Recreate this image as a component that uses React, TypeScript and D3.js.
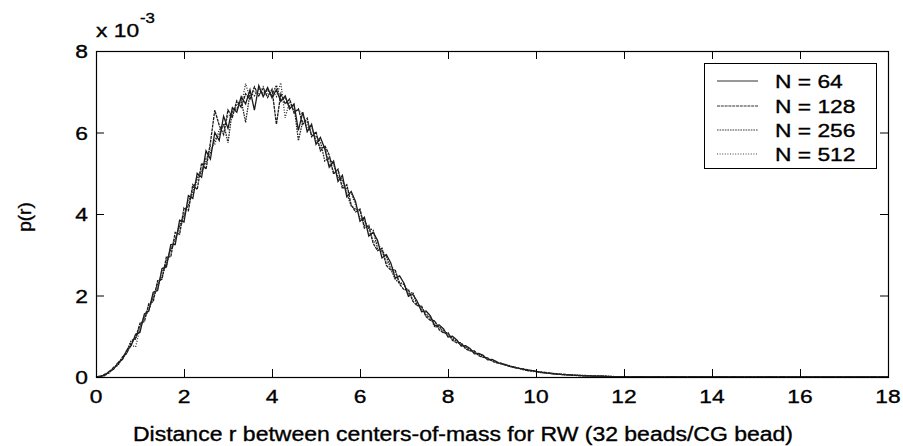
import React from "react";
import * as d3 from "d3";

// r grid (0 .. 18, step 0.1)
const R: number[] = d3.range(0, 181).map((i) => +(i * 0.1).toFixed(1));

const TAIL_A = [0.01,0,0.01,0.01,0,0,0.01,0,0,0, 0.01,0,0,0,0,0.01,0,0,0,0, 0,0.01,0,0,0,0,0,0,0,0, 0,0,0.01,0,0,0,0,0,0,0, 0,0,0,0,0,0,0,0,0,0, 0,0,0,0,0,0,0,0,0,0];
const TAIL_B = [0,0.01,0.01,0,0.01,0,0,0.01,0,0, 0,0,0.01,0,0,0,0,0.01,0,0, 0,0,0,0,0.01,0,0,0,0,0, 0,0,0,0,0,0.01,0,0,0,0, 0,0,0,0,0,0,0,0,0,0, 0,0,0,0,0,0,0,0,0,0];

const N64 = [
  0, 0.02, 0.04, 0.14, 0.19, 0.35, 0.43, 0.66, 0.77, 1.05,
  1.10, 1.55, 1.62, 2.08, 2.12, 2.66, 2.70, 3.25, 3.25, 3.85,
  3.80, 4.45, 4.38, 5.00, 4.90, 5.55, 5.35, 6.00, 5.80, 6.40,
  6.10, 6.61, 6.50, 6.88, 6.70, 7.05, 6.55, 7.15, 6.88, 7.10,
  6.85, 7.05, 6.76, 6.90, 6.58, 6.70, 6.05, 6.50, 6.02, 6.20,
  5.71, 5.88, 5.60, 5.15, 5.30, 4.80, 4.95, 4.42, 4.55, 4.30,
  3.82, 3.92, 3.46, 3.55, 3.35, 2.92, 3.00, 2.80, 2.42, 2.48,
  2.30, 1.98, 2.03, 1.86, 1.60, 1.62, 1.50, 1.26, 1.28, 1.18,
  0.98, 1.00, 0.91, 0.76, 0.77, 0.70, 0.57, 0.58, 0.53, 0.42,
  0.43, 0.38, 0.32, 0.31, 0.26, 0.25, 0.21, 0.20, 0.16, 0.16,
  0.13, 0.12, 0.10, 0.09, 0.08, 0.07, 0.06, 0.05, 0.05, 0.04,
  0.04, 0.03, 0.03, 0.02, 0.02, 0.02, 0.01, 0.01, 0.01, 0.01,
  0.01,
  ...TAIL_A,
];

const N128 = [
  0, 0.01, 0.07, 0.10, 0.24, 0.30, 0.49, 0.58, 0.84, 0.96,
  1.32, 1.36, 1.80, 1.85, 2.36, 2.40, 2.95, 2.95, 3.55, 3.50,
  4.15, 4.08, 4.72, 4.60, 5.25, 5.10, 5.75, 6.55, 6.18, 5.95,
  6.55, 6.38, 6.78, 6.62, 6.95, 6.82, 7.12, 6.90, 7.08, 6.86,
  7.06, 6.20, 6.95, 6.70, 6.82, 6.48, 6.58, 6.20, 6.35, 5.90,
  6.02, 5.55, 5.68, 5.45, 4.98, 5.10, 4.62, 4.72, 4.22, 4.05,
  4.12, 3.65, 3.72, 3.28, 3.10, 3.16, 2.74, 2.62, 2.63, 2.28,
  2.14, 2.15, 1.86, 1.75, 1.74, 1.48, 1.39, 1.38, 1.16, 1.08,
  1.09, 0.90, 0.84, 0.84, 0.69, 0.64, 0.64, 0.52, 0.48, 0.47,
  0.39, 0.35, 0.34, 0.29, 0.28, 0.23, 0.22, 0.19, 0.18, 0.15,
  0.14, 0.11, 0.11, 0.10, 0.08, 0.07, 0.07, 0.06, 0.04, 0.04,
  0.03, 0.03, 0.03, 0.03, 0.02, 0.02, 0.02, 0.01, 0.01, 0.01,
  0.01,
  ...TAIL_B,
];

const N256 = [
  0, 0.00, 0.05, 0.13, 0.22, 0.29, 0.47, 0.64, 0.90, 0.93,
  1.24, 1.47, 1.63, 1.99, 2.27, 2.44, 2.83, 3.12, 3.35, 3.72,
  3.99, 4.22, 4.58, 4.90, 5.01, 5.36, 5.50, 5.82, 5.95, 6.22,
  5.75, 6.55, 6.58, 6.79, 6.25, 6.96, 6.90, 7.06, 6.95, 7.04,
  6.91, 7.16, 6.80, 6.86, 6.64, 6.66, 5.80, 6.28, 6.26, 5.95,
  5.90, 5.78, 5.30, 5.38, 5.22, 4.90, 4.85, 4.50, 4.20, 4.12,
  4.08, 3.72, 3.66, 3.60, 3.15, 3.10, 2.95, 2.65, 2.40, 2.30,
  2.28, 2.02, 2.08, 1.76, 1.72, 1.51, 1.47, 1.22, 1.25, 1.09,
  1.07, 0.93, 0.89, 0.78, 0.75, 0.65, 0.63, 0.54, 0.51, 0.44,
  0.42, 0.37, 0.33, 0.30, 0.26, 0.24, 0.22, 0.18, 0.17, 0.15,
  0.14, 0.12, 0.11, 0.09, 0.09, 0.07, 0.06, 0.05, 0.05, 0.04,
  0.04, 0.04, 0.03, 0.02, 0.02, 0.02, 0.02, 0.02, 0.01, 0.01,
  0.01,
  ...TAIL_B,
];

const N512 = [
  0, 0.02, 0.03, 0.11, 0.20, 0.36, 0.44, 0.60, 0.78, 0.74,
  1.19, 1.52, 1.71, 1.94, 2.18, 2.60, 2.74, 3.18, 3.41, 3.64,
  3.92, 4.36, 4.45, 4.84, 5.12, 5.25, 5.66, 5.71, 6.07, 6.12,
  6.41, 6.45, 6.70, 6.65, 7.20, 6.84, 7.02, 6.93, 7.12, 6.92,
  7.03, 6.88, 7.22, 6.36, 6.76, 6.53, 6.55, 6.45, 6.10, 6.15,
  5.80, 5.62, 5.65, 5.25, 5.05, 5.08, 4.70, 4.62, 4.50, 4.22,
  3.90, 3.85, 3.62, 3.32, 3.30, 3.08, 2.80, 2.78, 2.56, 2.33,
  2.26, 2.10, 1.90, 1.84, 1.65, 1.56, 1.42, 1.36, 1.20, 1.14,
  1.02, 0.97, 0.86, 0.81, 0.72, 0.68, 0.60, 0.56, 0.49, 0.46,
  0.40, 0.36, 0.34, 0.29, 0.27, 0.23, 0.21, 0.20, 0.16, 0.14,
  0.13, 0.12, 0.10, 0.09, 0.08, 0.07, 0.06, 0.06, 0.05, 0.05,
  0.04, 0.03, 0.03, 0.03, 0.02, 0.02, 0.01, 0.01, 0.01, 0.01,
  0.01,
  ...TAIL_A,
];

const SERIES_NAMES = ["N = 64", "N = 128", "N = 256", "N = 512"];
const SERIES_VALUES = [N64, N128, N256, N512];
const X_TICKS = [0, 2, 4, 6, 8, 10, 12, 14, 16, 18];
const Y_TICKS = [0, 2, 4, 6, 8];
const X_LABEL = "Distance r between centers-of-mass for RW (32 beads/CG bead)";
const Y_LABEL = "p(r)";

const DASHES = ["none", "3,0.8", "1.6,1", "1,1.6"];
const STROKES = ["#1a1a1a", "#1a1a1a", "#222", "#2a2a2a"];

const FONT = "'Liberation Sans', Arial, Helvetica, sans-serif";

export default function App() {
  const W = 903, H = 446;
  const L = 96, T = 51, PW = 792, PH = 326;
  const x = d3.scaleLinear().domain([0, 18]).range([L, L + PW]);
  const y = d3.scaleLinear().domain([0, 8]).range([T + PH, T]);
  const line = d3
    .line<number>()
    .x((_, i) => x(R[i]))
    .y((d) => y(d));
  const tick = 8;
  const sx = 1.2;
  const txt = { fill: "#000", stroke: "#000", strokeWidth: 0.35 };

  const legX = 704, legY = 63, legW = 172, legH = 105;
  const legBase = [88, 113, 137, 161];

  return (
    <svg width={W} height={H} style={{ position: "absolute", left: 0, top: 0, background: "#fff" }} fontFamily={FONT}>
      <rect x={0} y={0} width={W} height={H} fill="#fff" />
      {/* series */}
      {SERIES_VALUES.map((vals, k) => (
        <path
          key={k}
          d={line(vals) || ""}
          fill="none"
          stroke={STROKES[k]}
          strokeWidth={1.3}
          strokeDasharray={DASHES[k]}
        />
      ))}
      {/* frame */}
      <rect x={L + 0.5} y={T + 0.5} width={PW} height={PH} fill="none" stroke="#000" strokeWidth={1.2} />
      {/* x ticks */}
      {X_TICKS.map((t) => (
        <g key={"xt" + t}>
          <line x1={x(t) + 0.5} x2={x(t) + 0.5} y1={T + PH} y2={T + PH - tick} stroke="#000" strokeWidth={1} />
          <line x1={x(t) + 0.5} x2={x(t) + 0.5} y1={T} y2={T + tick} stroke="#000" strokeWidth={1} />
          <text
            transform={`translate(${x(t)},${403}) scale(${sx},1)`}
            textAnchor="middle"
            fontSize={19}
            {...txt}
          >
            {t}
          </text>
        </g>
      ))}
      {/* y ticks */}
      {Y_TICKS.map((t) => (
        <g key={"yt" + t}>
          <line x1={L} x2={L + tick} y1={y(t) + 0.5} y2={y(t) + 0.5} stroke="#000" strokeWidth={1} />
          <line x1={L + PW} x2={L + PW - tick} y1={y(t) + 0.5} y2={y(t) + 0.5} stroke="#000" strokeWidth={1} />
          <text
            transform={`translate(${88},${y(t) + 7}) scale(${sx},1)`}
            textAnchor="end"
            fontSize={19}
            {...txt}
          >
            {t}
          </text>
        </g>
      ))}
      {/* exponent */}
      <text transform={`translate(96,37) scale(${sx},1)`} fontSize={19} {...txt}>
        x 10
      </text>
      <text transform={`translate(140,23) scale(${sx},1)`} fontSize={14} {...txt}>
        -3
      </text>
      {/* axis labels */}
      <text x={133} y={441} fontSize={20} textLength={660} lengthAdjust="spacingAndGlyphs" {...txt}>
        {X_LABEL}
      </text>
      <text transform="translate(31,217) rotate(-90)" textAnchor="middle" fontSize={19} {...txt}>
        {Y_LABEL}
      </text>
      {/* legend */}
      <rect x={legX + 0.5} y={legY + 0.5} width={legW} height={legH} fill="#fff" stroke="#000" strokeWidth={1} />
      {SERIES_NAMES.map((n, k) => (
        <g key={n}>
          <line
            x1={717}
            x2={758}
            y1={legBase[k] - 7}
            y2={legBase[k] - 7}
            stroke={STROKES[k]}
            strokeWidth={0.9}
            strokeDasharray={DASHES[k]}
          />
          <text transform={`translate(775,${legBase[k]}) scale(${sx},1)`} fontSize={19} {...txt}>
            {n}
          </text>
        </g>
      ))}
    </svg>
  );
}
